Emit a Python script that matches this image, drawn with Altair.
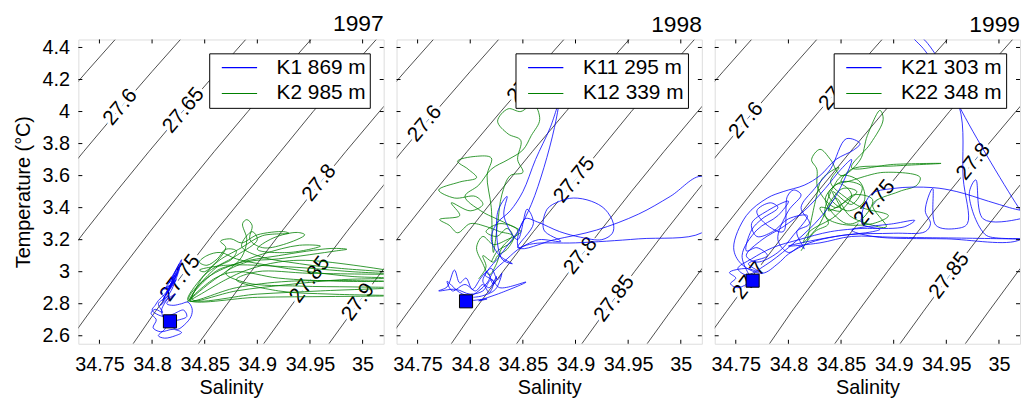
import altair as alt
import pandas as pd

FONT = "Liberation Sans"
BLUE = "#0000ff"
GREEN = "#008000"
W, H = 308, 307
S_DOMAIN = [34.73, 35.02]
T_DOMAIN = [2.55, 4.45]
X_TICKS = [34.75, 34.8, 34.85, 34.9, 34.95, 35.0]
Y_TICKS = [2.6, 2.8, 3.0, 3.2, 3.4, 3.6, 3.8, 4.0, 4.2, 4.4]

# ---- isopycnal (sigma-theta) lines ----
contour_t = [2.55, 2.75, 3.0, 3.25, 3.5, 3.75, 4.0, 4.25, 4.45]
contour_s = {
    "27.55": [34.533, 34.555, 34.583, 34.612, 34.642, 34.673, 34.705, 34.738, 34.765],
    "27.6":  [34.595, 34.617, 34.645, 34.674, 34.704, 34.735, 34.767, 34.800, 34.827],
    "27.65": [34.657, 34.679, 34.707, 34.736, 34.766, 34.797, 34.829, 34.862, 34.889],
    "27.7":  [34.719, 34.741, 34.769, 34.798, 34.828, 34.859, 34.891, 34.924, 34.951],
    "27.75": [34.782, 34.803, 34.831, 34.860, 34.891, 34.922, 34.953, 34.986, 35.013],
    "27.8":  [34.844, 34.866, 34.894, 34.923, 34.953, 34.984, 35.016, 35.049, 35.076],
    "27.85": [34.906, 34.928, 34.956, 34.985, 35.015, 35.046, 35.078, 35.111, 35.138],
    "27.9":  [34.968, 34.990, 35.018, 35.047, 35.077, 35.108, 35.140, 35.173, 35.200],
}

# contour labels: (text, S, T, angle)
labels_1997 = [("27.6", 34.770, 4.027, 310), ("27.65", 34.830, 4.006, 310),
               ("27.7", 34.913, 4.170, 310), ("27.75", 34.827, 2.960, 307),
               ("27.8", 34.959, 3.553, 309), ("27.85", 34.950, 2.950, 307),
               ("27.9", 34.996, 2.810, 306)]
labels_1998 = [("27.6", 34.757, 3.924, 310), ("27.65", 34.855, 4.196, 310),
               ("27.75", 34.899, 3.573, 309), ("27.8", 34.905, 3.099, 308),
               ("27.85", 34.937, 2.831, 307)]
labels_1999 = [("27.6", 34.760, 3.944, 310), ("27.65", 34.849, 4.150, 310),
               ("27.7", 34.763, 2.944, 307), ("27.75", 34.882, 3.429, 309),
               ("27.8", 34.976, 3.687, 309), ("27.85", 34.953, 2.975, 307)]

# ---- T-S traces (S, T) ----
k1 = [(34.817, 2.690), (34.812, 2.640), (34.806, 2.600), (34.812, 2.585), (34.822, 2.600),
      (34.828, 2.620), (34.820, 2.640), (34.808, 2.625), (34.801, 2.650), (34.804, 2.700),
      (34.799, 2.740), (34.803, 2.765), (34.810, 2.745), (34.806, 2.800), (34.812, 2.840),
      (34.808, 2.870), (34.818, 2.920), (34.812, 2.890), (34.822, 2.980), (34.816, 2.930),
      (34.826, 3.050), (34.819, 2.960), (34.828, 3.075), (34.821, 2.940), (34.815, 2.870),
      (34.824, 2.990), (34.813, 2.850), (34.820, 2.950), (34.810, 2.820), (34.817, 2.900),
      (34.826, 3.020), (34.818, 2.880), (34.808, 2.790), (34.815, 2.830), (34.822, 2.860),
      (34.814, 2.800), (34.820, 2.790), (34.828, 2.800), (34.834, 2.810), (34.838, 2.770),
      (34.837, 2.720), (34.831, 2.670), (34.824, 2.640), (34.818, 2.660), (34.812, 2.700),
      (34.809, 2.760), (34.816, 2.850), (34.811, 2.830), (34.823, 2.950), (34.817, 2.910),
      (34.827, 3.040), (34.822, 2.985), (34.815, 2.880), (34.819, 2.930), (34.812, 2.860),
      (34.806, 2.820), (34.803, 2.790), (34.800, 2.760), (34.806, 2.730), (34.813, 2.720),
      (34.820, 2.735), (34.830, 2.760), (34.833, 2.720), (34.826, 2.700), (34.816, 2.690)]
k2 = [(34.833, 2.810), (34.855, 2.930), (34.872, 3.010), (34.885, 3.090), (34.890, 3.200),
      (34.886, 3.300), (34.890, 3.325), (34.895, 3.290), (34.893, 3.200), (34.905, 3.150),
      (34.925, 3.170), (34.945, 3.230), (34.938, 3.245), (34.915, 3.210), (34.900, 3.140),
      (34.930, 3.120), (34.960, 3.160), (34.940, 3.165), (34.905, 3.110), (34.880, 3.050),
      (34.860, 3.000), (34.836, 2.820), (34.880, 2.880), (34.930, 2.920), (34.980, 2.950),
      (35.030, 2.960), (34.990, 2.970), (34.950, 3.000), (34.910, 3.040), (34.880, 3.080),
      (34.865, 3.120), (34.852, 3.100), (34.845, 3.060), (34.852, 3.040), (34.862, 3.080),
      (34.870, 3.140), (34.880, 3.130), (34.876, 3.080), (34.860, 3.020), (34.838, 2.830),
      (34.900, 2.860), (34.960, 2.880), (35.030, 2.900), (34.990, 2.905), (34.940, 2.910),
      (34.890, 2.930), (34.870, 2.990), (34.890, 3.060), (34.920, 3.080), (34.975, 3.130),
      (34.985, 3.140), (34.970, 3.145), (34.920, 3.100), (34.880, 3.050), (34.850, 2.950),
      (34.835, 2.825), (34.900, 2.840), (34.970, 2.845), (35.030, 2.850), (34.970, 2.860),
      (34.920, 2.880), (34.880, 2.950), (34.900, 3.000), (34.950, 2.990), (35.030, 2.985),
      (34.990, 3.000), (34.930, 3.030), (34.870, 3.040), (34.845, 3.010), (34.850, 3.000),
      (34.870, 3.150), (34.865, 3.190), (34.875, 3.205), (34.885, 3.180), (34.900, 3.230),
      (34.925, 3.250), (34.930, 3.240), (34.905, 3.225), (34.885, 3.150), (34.860, 3.050),
      (34.834, 2.820), (34.880, 2.900), (34.930, 2.940), (35.030, 2.940), (34.980, 2.940),
      (34.920, 2.960), (34.880, 3.000), (34.860, 2.960), (34.836, 2.825), (34.870, 2.950),
      (34.890, 3.010), (34.920, 3.060), (34.950, 3.070), (35.030, 3.000), (34.980, 3.020),
      (34.940, 3.050), (34.900, 3.100), (34.885, 3.160), (34.895, 3.250), (34.900, 3.200),
      (34.880, 3.100), (34.850, 2.980), (34.837, 2.830)]
k11 = [(34.796, 2.815), (34.806, 2.823), (34.816, 2.830), (34.808, 2.818), (34.830, 2.870),
       (34.853, 2.935), (34.828, 2.900), (34.820, 2.950), (34.812, 2.880), (34.800, 2.860),
       (34.786, 2.890), (34.770, 2.880), (34.778, 2.905), (34.785, 3.010), (34.790, 2.930),
       (34.796, 2.960), (34.802, 2.890), (34.810, 2.960), (34.816, 3.000), (34.822, 2.920),
       (34.825, 2.970), (34.818, 2.900), (34.812, 2.940), (34.818, 3.020), (34.826, 3.080),
       (34.835, 3.160), (34.845, 3.250), (34.858, 3.420), (34.870, 3.650), (34.880, 3.900),
       (34.884, 4.050), (34.876, 3.900), (34.862, 3.700), (34.850, 3.500), (34.838, 3.380),
       (34.825, 3.300), (34.820, 3.200), (34.828, 3.100), (34.840, 3.050), (34.830, 3.080),
       (34.826, 3.370), (34.835, 3.470), (34.832, 3.350), (34.845, 3.200), (34.854, 3.390),
       (34.860, 3.300), (34.845, 3.150), (34.865, 3.200), (34.886, 3.190), (34.870, 3.260),
       (34.873, 3.390), (34.885, 3.440), (34.898, 3.460), (34.915, 3.440), (34.928, 3.390),
       (34.936, 3.300), (34.935, 3.240), (34.925, 3.200), (34.905, 3.215), (34.885, 3.250),
       (34.864, 3.310), (34.852, 3.330), (34.846, 3.150), (34.880, 3.200), (34.920, 3.260),
       (34.960, 3.360), (34.990, 3.470), (35.020, 3.594), (35.040, 3.400), (35.020, 3.243),
       (34.960, 3.205), (34.900, 3.180), (34.860, 3.175), (34.848, 3.150), (34.835, 3.080),
       (34.822, 3.000), (34.816, 2.930), (34.808, 2.880), (34.800, 2.850), (34.790, 2.870),
       (34.778, 2.940), (34.783, 2.880), (34.795, 2.920), (34.805, 2.880), (34.812, 2.920),
       (34.818, 2.870), (34.822, 2.940), (34.814, 2.980), (34.820, 3.020), (34.826, 2.950),
       (34.830, 2.990), (34.824, 2.890), (34.812, 2.850), (34.803, 2.840)]
k12 = [(34.808, 2.955), (34.815, 3.030), (34.812, 3.100), (34.822, 3.060), (34.826, 3.100),
       (34.835, 3.140), (34.841, 3.222), (34.828, 3.250), (34.816, 3.280), (34.800, 3.300),
       (34.788, 3.243), (34.780, 3.290), (34.771, 3.326), (34.790, 3.350), (34.782, 3.430),
       (34.800, 3.380), (34.812, 3.420), (34.805, 3.470), (34.785, 3.460), (34.770, 3.510),
       (34.790, 3.560), (34.806, 3.587), (34.798, 3.640), (34.788, 3.690), (34.805, 3.720),
       (34.820, 3.710), (34.816, 3.600), (34.820, 3.400), (34.821, 3.200), (34.822, 3.120),
       (34.826, 3.300), (34.830, 3.480), (34.838, 3.600), (34.850, 3.620), (34.845, 3.700),
       (34.848, 3.820), (34.836, 3.860), (34.826, 3.940), (34.836, 4.017), (34.848, 4.000),
       (34.860, 4.048), (34.866, 3.950), (34.858, 3.850), (34.850, 3.760), (34.836, 3.700),
       (34.820, 3.640), (34.808, 3.540), (34.795, 3.470), (34.810, 3.380), (34.825, 3.330),
       (34.838, 3.290), (34.848, 3.250), (34.835, 3.200), (34.822, 3.170), (34.812, 3.220),
       (34.806, 3.150), (34.812, 3.050), (34.818, 2.980), (34.825, 3.050), (34.830, 3.150),
       (34.840, 3.230), (34.835, 3.270), (34.825, 3.220), (34.815, 3.250), (34.828, 3.300),
       (34.845, 3.260), (34.838, 3.180), (34.826, 3.130), (34.820, 3.060)]
k21 = [(34.766, 2.944), (34.752, 2.900), (34.745, 2.925), (34.750, 2.960), (34.744, 2.995),
       (34.760, 3.020), (34.772, 3.000), (34.762, 3.050), (34.780, 3.100), (34.770, 3.150),
       (34.760, 3.130), (34.765, 3.260), (34.775, 3.330), (34.790, 3.400), (34.783, 3.430),
       (34.770, 3.380), (34.778, 3.300), (34.795, 3.250), (34.799, 3.470), (34.805, 3.510),
       (34.812, 3.480), (34.800, 3.380), (34.790, 3.200), (34.800, 3.120), (34.812, 3.160),
       (34.815, 3.143), (34.808, 3.250), (34.820, 3.300), (34.812, 3.400), (34.825, 3.520),
       (34.840, 3.640), (34.855, 3.830), (34.868, 3.800), (34.862, 3.760), (34.845, 3.700),
       (34.830, 3.600), (34.815, 3.540), (34.795, 3.500), (34.780, 3.460), (34.760, 3.350),
       (34.748, 3.150), (34.755, 3.050), (34.775, 2.990), (34.790, 3.050), (34.800, 3.110),
       (34.820, 3.180), (34.845, 3.220), (34.880, 3.250), (34.887, 3.265), (34.870, 3.300),
       (34.878, 3.480), (34.900, 3.520), (34.937, 3.525), (34.960, 3.500), (34.990, 3.440),
       (35.010, 3.400), (35.030, 3.360), (35.020, 3.330), (34.985, 3.330), (34.978, 3.573),
       (34.972, 3.500), (34.975, 3.377), (34.984, 3.254), (34.990, 3.220), (35.030, 3.205),
       (34.960, 3.210), (34.900, 3.215), (34.860, 3.220), (34.830, 3.180), (34.800, 3.160),
       (34.855, 3.230), (34.900, 3.240), (34.930, 3.250), (34.935, 3.300), (34.930, 3.380),
       (34.937, 3.520), (34.940, 3.290), (34.960, 3.270), (34.970, 3.300), (34.966, 3.584),
       (34.962, 4.037), (34.930, 4.378), (34.918, 4.470), (34.925, 4.470), (34.945, 4.300),
       (34.962, 4.037), (35.021, 3.377), (35.030, 3.300), (35.020, 3.200), (34.950, 3.205),
       (34.880, 3.220), (34.860, 3.260), (34.900, 3.300), (34.920, 3.320), (34.910, 3.280),
       (34.880, 3.270), (34.870, 3.270), (34.840, 3.250), (34.810, 3.200), (34.785, 3.150),
       (34.765, 3.080), (34.752, 3.020), (34.760, 2.980), (34.778, 3.040), (34.800, 3.150),
       (34.825, 3.300), (34.840, 3.420), (34.852, 3.560), (34.860, 3.700), (34.850, 3.640),
       (34.835, 3.520), (34.815, 3.380), (34.795, 3.280), (34.775, 3.200), (34.760, 3.100),
       (34.770, 3.060), (34.790, 3.120), (34.805, 3.230), (34.818, 3.350), (34.800, 3.330),
       (34.785, 3.250), (34.770, 3.220), (34.765, 3.300), (34.780, 3.380), (34.800, 3.440),
       (34.790, 3.350), (34.770, 3.260), (34.756, 3.100), (34.766, 2.944)]
k22 = [(34.812, 3.130), (34.825, 3.250), (34.838, 3.300), (34.830, 3.400), (34.850, 3.380),
       (34.842, 3.500), (34.860, 3.420), (34.870, 3.530), (34.850, 3.560), (34.835, 3.450),
       (34.855, 3.300), (34.870, 3.330), (34.880, 3.450), (34.862, 3.480), (34.845, 3.400),
       (34.828, 3.520), (34.827, 3.640), (34.822, 3.700), (34.830, 3.764), (34.840, 3.700),
       (34.850, 3.600), (34.868, 3.697), (34.875, 3.850), (34.887, 4.007), (34.890, 3.950),
       (34.878, 3.800), (34.860, 3.650), (34.900, 3.670), (34.945, 3.676), (34.900, 3.660),
       (34.860, 3.640), (34.850, 3.560), (34.890, 3.620), (34.925, 3.590), (34.922, 3.540),
       (34.905, 3.500), (34.880, 3.420), (34.893, 3.280), (34.875, 3.300), (34.858, 3.350),
       (34.845, 3.460), (34.838, 3.380), (34.850, 3.420), (34.865, 3.500), (34.852, 3.520),
       (34.840, 3.440), (34.830, 3.300), (34.820, 3.220), (34.814, 3.180), (34.820, 3.250),
       (34.845, 3.350), (34.860, 3.480), (34.848, 3.550), (34.838, 3.480), (34.856, 3.380),
       (34.872, 3.440), (34.868, 3.560), (34.852, 3.600), (34.842, 3.520), (34.835, 3.350),
       (34.848, 3.300), (34.880, 3.300), (34.895, 3.350), (34.870, 3.400), (34.855, 3.460),
       (34.840, 3.560), (34.848, 3.650), (34.832, 3.580), (34.826, 3.450), (34.818, 3.200)]

# start markers (S, T)
start_1997 = (34.817, 2.690)
start_1998 = (34.796, 2.815)
start_1999 = (34.766, 2.944)

# ---- tables ----
contour_rows = []
for lev, svals in contour_s.items():
    for i, (s, t) in enumerate(zip(svals, contour_t)):
        contour_rows.append({"level": lev, "i": i, "S": s, "T": t})
contour_df = pd.DataFrame(contour_rows)
xtick_df = pd.DataFrame({"S": X_TICKS})
ytick_df = pd.DataFrame({"T": Y_TICKS})


def trace_df(blue, green, blue_name, green_name):
    rows = []
    for name, pts in ((green_name, green), (blue_name, blue)):
        for i, (s, t) in enumerate(pts):
            rows.append({"series": name, "i": i, "S": s, "T": t})
    return pd.DataFrame(rows)


def panel(year, blue, green, blue_name, green_name, start, labels, legend_x, show_y):
    xscale = alt.Scale(domain=S_DOMAIN, nice=False, zero=False)
    yscale = alt.Scale(domain=T_DOMAIN, nice=False, zero=False)
    x_axis = alt.Axis(values=X_TICKS, format="~g", ticks=False, tickSize=0, domain=False,
                      grid=False, labelFont=FONT, labelFontSize=20, labelPadding=11,
                      labelColor="black", labelFlush=False, labelOverlap=False,
                      title="Salinity", titleFont=FONT, titleFontSize=20,
                      titleFontWeight="normal", titlePadding=3, titleColor="black")
    if show_y:
        y_axis = alt.Axis(values=Y_TICKS, format="~g", ticks=False, tickSize=0, domain=False,
                          grid=False, labelFont=FONT, labelFontSize=20, labelPadding=9,
                          labelColor="black", labelFlush=False, labelOverlap=False,
                          title="Temperature (°C)", titleFont=FONT, titleFontSize=20,
                          titleFontWeight="normal", titlePadding=8, titleColor="black")
    else:
        y_axis = None
    X = alt.X("S:Q", scale=xscale, axis=x_axis)
    Y = alt.Y("T:Q", scale=yscale, axis=y_axis)

    contours = alt.Chart(contour_df).mark_line(color="black", strokeWidth=0.7, clip=True).encode(
        x=X, y=Y, detail="level:N", order="i:Q")

    lab_df = pd.DataFrame(labels, columns=["text", "S", "T", "angle"])
    halo = alt.Chart(lab_df).mark_text(font=FONT, fontSize=21, fill="white", stroke="white",
                                        strokeWidth=7, align="center", baseline="middle").encode(
        x=X, y=Y, text="text:N", angle=alt.Angle("angle:Q", scale=None))
    lab = alt.Chart(lab_df).mark_text(font=FONT, fontSize=21, color="black",
                                       align="center", baseline="middle").encode(
        x=X, y=Y, text="text:N", angle=alt.Angle("angle:Q", scale=None))

    legend = alt.Legend(title=None, orient="none", legendX=legend_x, legendY=14,
                        direction="vertical", symbolType="stroke", symbolSize=1267,
                        symbolStrokeWidth=1.2, symbolOffset=8, labelOffset=19,
                        labelFont=FONT, labelFontSize=21, labelColor="black",
                        padding=4, rowPadding=4, clipHeight=21, strokeColor="black",
                        fillColor="white", cornerRadius=0,
                        labelExpr="datum.label + '\u00a0'")
    traces = alt.Chart(trace_df(blue, green, blue_name, green_name)).mark_line(
        strokeWidth=0.8, clip=True, interpolate="catmull-rom").encode(
        x=X, y=Y,
        color=alt.Color("series:N", scale=alt.Scale(domain=[blue_name, green_name],
                                                    range=[BLUE, GREEN]), legend=legend),
        order="i:Q")

    sq = alt.Chart(pd.DataFrame({"S": [start[0]], "T": [start[1]]})).mark_square(
        size=175, fill=BLUE, stroke="black", strokeWidth=1, opacity=1).encode(x=X, y=Y)

    tl = 4
    left_t = alt.Chart(ytick_df).mark_rule(color="black", strokeWidth=1).encode(
        y=Y, x=alt.value(0), x2=alt.value(tl))
    right_t = alt.Chart(ytick_df).mark_rule(color="black", strokeWidth=1).encode(
        y=Y, x=alt.value(W - tl), x2=alt.value(W))
    bot_t = alt.Chart(xtick_df).mark_rule(color="black", strokeWidth=1).encode(
        x=X, y=alt.value(H - tl), y2=alt.value(H))
    top_t = alt.Chart(xtick_df).mark_rule(color="black", strokeWidth=1).encode(
        x=X, y=alt.value(0), y2=alt.value(tl))

    return alt.layer(contours, halo, lab, traces, sq, left_t, right_t, bot_t, top_t).properties(
        width=W, height=H,
        title=alt.TitleParams(text=year, anchor="end", frame="group", fontSize=23,
                              fontWeight="normal", font=FONT, offset=2, color="black"))


p1 = panel("1997", k1, k2, "K1 869 m", "K2 985 m", start_1997, labels_1997, 132, True)
p2 = panel("1998", k11, k12, "K11 295 m", "K12 339 m", start_1998, labels_1998, 120, False)
p3 = panel("1999", k21, k22, "K21 303 m", "K22 348 m", start_1999, labels_1999, 120, False)

chart = alt.hconcat(p1, p2, p3, spacing=13, bounds="flush").resolve_scale(
    x="independent", y="independent", color="independent").resolve_legend(
    color="independent").properties(
    padding={"left": 5, "top": 2, "right": 0, "bottom": 0}
).configure_view(stroke="black", strokeWidth=1.3).configure(font=FONT)

chart.save("out.html", embed_options={"renderer": "svg", "actions": False})
